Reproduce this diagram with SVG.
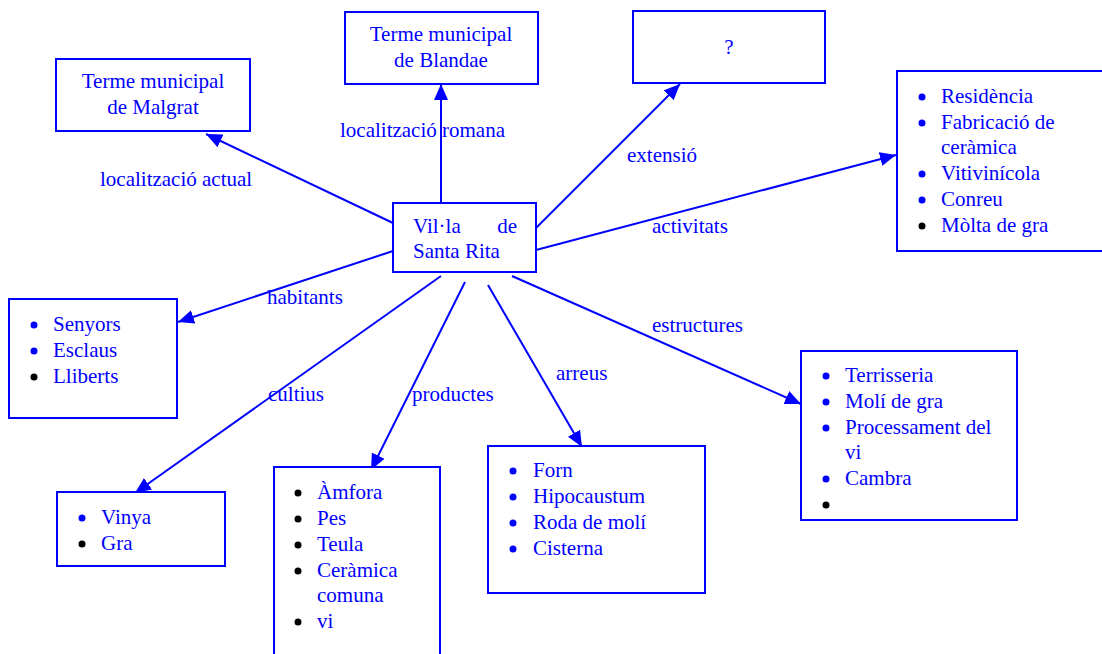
<svg xmlns="http://www.w3.org/2000/svg" width="1102" height="654" viewBox="0 0 1102 654">
<style>
text{font-family:"Liberation Serif","Times New Roman",serif;font-size:21px;fill:#0000ff}
.box{fill:#fff;stroke:#0000ff;stroke-width:2}
.c{text-anchor:middle}
.bb{fill:#0000ff}
.bk{fill:#000}
</style>
<defs>
<marker id="ah" viewBox="0 0 16 14" refX="16" refY="7" markerWidth="16" markerHeight="14" markerUnits="userSpaceOnUse" orient="auto">
<path d="M0,0 L16,7 L0,14 z" fill="#0000ff"/>
</marker>
</defs>
<g id="connectors" stroke="#0000ff" stroke-width="2" fill="none">
<line x1="393" y1="223" x2="206" y2="134" marker-end="url(#ah)"/>
<line x1="441" y1="203" x2="441" y2="84" marker-end="url(#ah)"/>
<line x1="536" y1="228" x2="680" y2="84" marker-end="url(#ah)"/>
<line x1="536" y1="250" x2="896" y2="155" marker-end="url(#ah)"/>
<line x1="393" y1="251" x2="178" y2="322" marker-end="url(#ah)"/>
<line x1="441" y1="276" x2="135" y2="493" marker-end="url(#ah)"/>
<line x1="465" y1="282" x2="371" y2="470" marker-end="url(#ah)"/>
<line x1="488" y1="285" x2="582" y2="447" marker-end="url(#ah)"/>
<line x1="512" y1="276" x2="801" y2="404" marker-end="url(#ah)"/>
</g>
<g id="labels">
<text x="100" y="186">localització actual</text>
<text x="340" y="137">localització romana</text>
<text x="627" y="162">extensió</text>
<text x="652" y="233">activitats</text>
<text x="267" y="304">habitants</text>
<text x="652" y="332">estructures</text>
<text x="556" y="380">arreus</text>
<text x="268" y="401">cultius</text>
<text x="412" y="401">productes</text>
</g>
<g id="center">
<rect class="box" x="393" y="203" width="143" height="69"/>
<text x="413" y="233">Vil·la</text><text x="517" y="233" text-anchor="end">de</text>
<text x="413" y="258">Santa Rita</text>
</g>
<g id="malgrat">
<rect class="box" x="56" y="59" width="194" height="72"/>
<text class="c" x="153" y="88">Terme municipal</text>
<text class="c" x="153" y="114">de Malgrat</text>
</g>
<g id="blandae">
<rect class="box" x="345" y="12" width="193" height="72"/>
<text class="c" x="441" y="41">Terme municipal</text>
<text class="c" x="441" y="67">de Blandae</text>
</g>
<g id="extensio">
<rect class="box" x="633" y="11" width="192" height="72"/>
<text class="c" x="729" y="54">?</text>
</g>
<g id="activitats">
<rect class="box" x="897" y="71" width="210" height="180"/>
<circle class="bb" cx="922" cy="97" r="3.5"/><text x="941" y="103">Residència</text>
<circle class="bb" cx="922" cy="123" r="3.5"/><text x="941" y="129">Fabricació de</text>
<text x="941" y="154">ceràmica</text>
<circle class="bb" cx="922" cy="174" r="3.5"/><text x="941" y="180">Vitivinícola</text>
<circle class="bb" cx="922" cy="200" r="3.5"/><text x="941" y="206">Conreu</text>
<circle class="bk" cx="922" cy="226" r="3.5"/><text x="941" y="232">Mòlta de gra</text>
</g>
<g id="habitants">
<rect class="box" x="9" y="299" width="168" height="119"/>
<circle class="bb" cx="34" cy="325" r="3.5"/><text x="53" y="331">Senyors</text>
<circle class="bb" cx="34" cy="351" r="3.5"/><text x="53" y="357">Esclaus</text>
<circle class="bk" cx="34" cy="377" r="3.5"/><text x="53" y="383">Lliberts</text>
</g>
<g id="cultius">
<rect class="box" x="57" y="492" width="168" height="74"/>
<circle class="bb" cx="82" cy="518" r="3.5"/><text x="101" y="524">Vinya</text>
<circle class="bk" cx="82" cy="544" r="3.5"/><text x="101" y="550">Gra</text>
</g>
<g id="productes">
<rect class="box" x="274" y="467" width="166" height="200"/>
<circle class="bk" cx="298" cy="493" r="3.5"/><text x="317" y="499">Àmfora</text>
<circle class="bk" cx="298" cy="519" r="3.5"/><text x="317" y="525">Pes</text>
<circle class="bk" cx="298" cy="545" r="3.5"/><text x="317" y="551">Teula</text>
<circle class="bk" cx="298" cy="571" r="3.5"/><text x="317" y="577">Ceràmica</text>
<text x="317" y="602">comuna</text>
<circle class="bk" cx="298" cy="622" r="3.5"/><text x="317" y="628">vi</text>
</g>
<g id="arreus">
<rect class="box" x="488" y="446" width="217" height="147"/>
<circle class="bb" cx="513" cy="471" r="3.5"/><text x="533" y="477">Forn</text>
<circle class="bb" cx="513" cy="497" r="3.5"/><text x="533" y="503">Hipocaustum</text>
<circle class="bb" cx="513" cy="523" r="3.5"/><text x="533" y="529">Roda de molí</text>
<circle class="bb" cx="513" cy="549" r="3.5"/><text x="533" y="555">Cisterna</text>
</g>
<g id="estructures">
<rect class="box" x="801" y="351" width="216" height="169"/>
<circle class="bb" cx="826" cy="376" r="3.5"/><text x="845" y="382">Terrisseria</text>
<circle class="bb" cx="826" cy="402" r="3.5"/><text x="845" y="408">Molí de gra</text>
<circle class="bb" cx="826" cy="428" r="3.5"/><text x="845" y="434">Processament del</text>
<text x="845" y="459">vi</text>
<circle class="bb" cx="826" cy="479" r="3.5"/><text x="845" y="485">Cambra</text>
<circle class="bk" cx="826" cy="505" r="3.5"/>
</g>
</svg>
